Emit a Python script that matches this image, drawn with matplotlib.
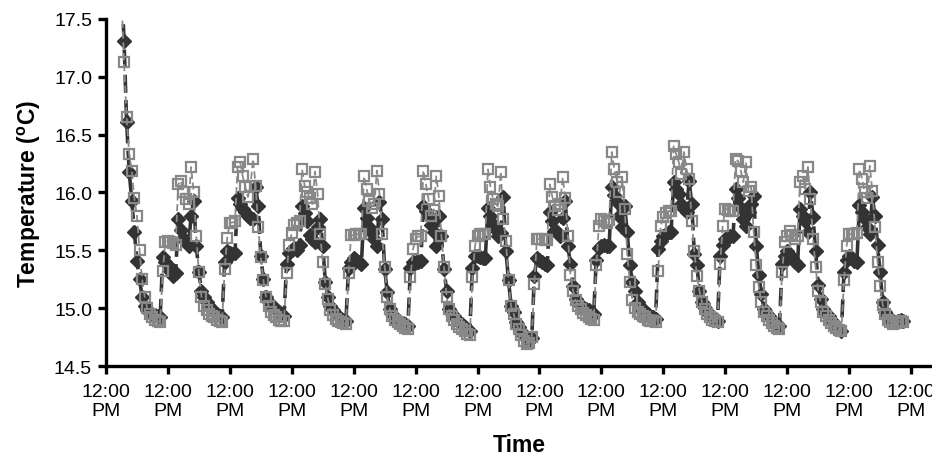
import numpy as np
import matplotlib
matplotlib.use("Agg")
import matplotlib.pyplot as plt

plt.rcParams["font.family"] = ["Liberation Sans", "DejaVu Sans"]
plt.rcParams["mathtext.fontset"] = "custom"
plt.rcParams["mathtext.rm"] = "Liberation Sans:bold"
plt.rcParams["mathtext.bf"] = "Liberation Sans:bold"

# ── Datos (lecturas horarias, horas desde el primer mediodía) ──
# tramo inicial: 6 PM hasta 9 AM del día 1
inicio_oscuro = [17.85, 17.31, 16.61, 16.18, 15.93, 15.66, 15.41, 15.25,
                 15.10, 15.02, 14.98, 14.96, 14.95, 14.94, 14.93, 14.92]
inicio_gris = [17.70, 17.13, 16.65, 16.33, 16.19, 15.95, 15.80, 15.50,
               15.25, 15.10, 15.00, 14.95, 14.92, 14.90, 14.89, 14.88]

# días 1..12: 24 lecturas de 10 AM a 9 AM del día siguiente
dias_oscuro = [
    [15.44, 15.40, 15.37, 15.32, 15.28, 15.30, 15.77, 15.68, 15.61, 15.57, 15.54, 15.80,
     15.93, 15.54, 15.31, 15.15, 15.10, 15.05, 15.02, 14.99, 14.97, 14.95, 14.93, 14.92],
    [15.40, 15.49, 15.48, 15.47, 15.48, 15.95, 15.90, 15.86, 15.83, 15.80, 15.78, 15.77,
     16.05, 15.88, 15.45, 15.25, 15.10, 15.05, 15.02, 15.00, 14.99, 14.97, 14.95, 14.93],
    [15.38, 15.48, 15.50, 15.52, 15.50, 15.55, 15.88, 15.82, 15.75, 15.63, 15.60, 15.57,
     15.70, 15.77, 15.54, 15.23, 15.10, 15.02, 14.98, 14.95, 14.93, 14.91, 14.90, 14.89],
    [15.35, 15.40, 15.43, 15.42, 15.40, 15.38, 15.87, 15.78, 15.70, 15.65, 15.60, 15.54,
     15.92, 15.77, 15.34, 15.14, 14.99, 14.95, 14.90, 14.89, 14.88, 14.87, 14.86, 14.85],
    [15.35, 15.40, 15.40, 15.40, 15.41, 15.88, 15.84, 15.80, 15.72, 15.66, 15.54, 15.80,
     15.62, 15.34, 15.15, 14.99, 14.95, 14.93, 14.90, 14.88, 14.86, 14.84, 14.82, 14.80],
    [15.35, 15.45, 15.45, 15.44, 15.43, 15.43, 15.87, 15.80, 15.73, 15.68, 15.62, 15.65,
     15.96, 15.49, 15.24, 15.02, 14.97, 14.88, 14.84, 14.80, 14.76, 14.73, 14.72, 14.74],
    [15.28, 15.43, 15.42, 15.40, 15.38, 15.37, 15.83, 15.75, 15.68, 15.65, 15.62, 15.78,
     15.93, 15.54, 15.38, 15.19, 15.08, 15.05, 15.02, 15.00, 14.99, 14.98, 14.96, 14.95],
    [15.42, 15.52, 15.54, 15.55, 15.54, 15.54, 16.05, 15.98, 15.92, 15.80, 15.70, 15.88,
     15.66, 15.37, 15.23, 15.15, 15.05, 15.00, 14.99, 14.97, 14.95, 14.93, 14.92, 14.91],
    [15.51, 15.58, 15.62, 15.64, 15.66, 15.66, 16.09, 16.03, 15.99, 15.90, 15.86, 15.83,
     16.10, 15.90, 15.47, 15.37, 15.15, 15.05, 15.00, 14.97, 14.95, 14.92, 14.90, 14.89],
    [15.45, 15.55, 15.60, 15.61, 15.62, 15.62, 16.03, 15.95, 15.87, 15.77, 15.71, 15.83,
     15.90, 15.97, 15.54, 15.29, 15.12, 14.99, 14.95, 14.93, 14.90, 14.88, 14.86, 14.85],
    [15.38, 15.45, 15.49, 15.46, 15.43, 15.40, 15.37, 15.86, 15.80, 15.75, 15.66, 16.00,
     15.79, 15.49, 15.20, 15.08, 14.99, 14.95, 14.93, 14.90, 14.87, 14.85, 14.82, 14.80],
    [15.31, 15.42, 15.45, 15.43, 15.41, 15.40, 15.89, 15.83, 15.77, 15.70, 15.64, 15.96,
     15.80, 15.55, 15.31, 15.05, 14.97, 14.93, 14.89, 14.88, 14.88, 14.89, 14.90, 14.89],
]
dias_gris = [
    [15.32, 15.57, 15.58, 15.57, 15.56, 15.55, 16.07, 16.10, 16.00, 15.94, 15.90, 16.22,
     16.00, 15.62, 15.31, 15.10, 15.02, 14.98, 14.95, 14.93, 14.92, 14.90, 14.89, 14.88],
    [15.34, 15.61, 15.74, 15.74, 15.75, 16.22, 16.26, 16.14, 16.05, 15.96, 16.06, 16.29,
     16.06, 15.70, 15.44, 15.24, 15.10, 15.02, 14.97, 14.94, 14.92, 14.90, 14.89, 14.89],
    [15.30, 15.55, 15.65, 15.72, 15.74, 15.75, 16.20, 16.06, 16.00, 15.95, 15.90, 16.18,
     15.99, 15.64, 15.40, 15.21, 15.08, 14.98, 14.94, 14.91, 14.89, 14.88, 14.87, 14.86],
    [15.30, 15.63, 15.63, 15.64, 15.64, 15.64, 16.14, 16.03, 15.93, 15.87, 15.90, 16.19,
     15.99, 15.64, 15.36, 15.10, 14.99, 14.93, 14.90, 14.88, 14.86, 14.85, 14.83, 14.82],
    [15.27, 15.51, 15.60, 15.62, 15.62, 16.19, 16.07, 15.94, 15.80, 15.85, 16.14, 15.97,
     15.62, 15.36, 15.10, 14.99, 14.93, 14.90, 14.86, 14.84, 14.82, 14.80, 14.78, 14.77],
    [15.27, 15.54, 15.62, 15.64, 15.64, 15.64, 16.20, 16.05, 15.94, 15.90, 15.88, 16.18,
     15.77, 15.58, 15.24, 15.02, 14.95, 14.86, 14.82, 14.77, 14.72, 14.69, 14.70, 14.75],
    [15.21, 15.60, 15.60, 15.60, 15.59, 15.59, 16.07, 15.96, 15.88, 15.85, 15.90, 16.13,
     15.95, 15.62, 15.29, 15.15, 15.07, 15.02, 14.99, 14.96, 14.94, 14.92, 14.91, 14.90],
    [15.37, 15.71, 15.77, 15.75, 15.74, 15.76, 16.35, 16.20, 16.09, 16.00, 16.13, 15.86,
     15.47, 15.23, 15.07, 15.00, 14.97, 14.95, 14.93, 14.92, 14.90, 14.89, 14.89, 14.88],
    [15.32, 15.71, 15.79, 15.82, 15.84, 15.84, 16.40, 16.33, 16.26, 16.16, 16.35, 16.20,
     16.12, 15.75, 15.49, 15.28, 15.15, 15.05, 14.99, 14.95, 14.92, 14.90, 14.89, 14.88],
    [15.38, 15.71, 15.86, 15.85, 15.84, 15.84, 16.29, 16.27, 16.19, 16.09, 16.26, 16.01,
     16.05, 15.66, 15.37, 15.18, 15.05, 14.97, 14.93, 14.90, 14.87, 14.85, 14.83, 14.82],
    [15.31, 15.57, 15.62, 15.67, 15.63, 15.60, 15.62, 16.09, 16.14, 16.03, 16.22, 15.94,
     15.60, 15.36, 15.15, 15.05, 14.97, 14.93, 14.90, 14.87, 14.85, 14.83, 14.81, 14.80],
    [15.24, 15.54, 15.64, 15.64, 15.64, 15.65, 16.20, 16.12, 16.00, 15.95, 16.23, 16.01,
     15.70, 15.40, 15.19, 15.03, 14.95, 14.90, 14.88, 14.86, 14.87, 14.88, 14.89, 14.88],
]

hora_inicio = 6          # 6 PM del primer día
n_ticks = 14
etiqueta_tick = "12:00\nPM"

oscuro = np.array(inicio_oscuro + [v for d in dias_oscuro for v in d])
gris = np.array(inicio_gris + [v for d in dias_gris for v in d])
horas = np.arange(hora_inicio, hora_inicio + len(oscuro))

# ── Gráfico ──
fig = plt.figure(figsize=(9.32, 4.64), dpi=100)
ax = fig.add_axes([0.1137, 0.209, 0.886, 0.748])

ax.plot(horas, oscuro, color="#333333", linestyle=(0, (5, 2)), linewidth=2.6,
        marker="D", markersize=7.5, markerfacecolor="#333333",
        markeredgecolor="#333333", zorder=2)
ax.plot(horas, gris, color="#8a8a8a", linestyle=(0, (4, 2)), linewidth=1.3,
        marker="s", markersize=7.2, markerfacecolor="none",
        markeredgecolor="#888888", markeredgewidth=1.6, zorder=3)

ax.set_ylim(14.5, 17.5)
ax.set_yticks(np.arange(14.5, 17.51, 0.5))
ax.set_yticklabels([f"{v:.1f}" for v in np.arange(14.5, 17.51, 0.5)])
ax.set_xlim(0, 320)
ax.set_xticks(np.arange(n_ticks) * 24)
ax.set_xticklabels([etiqueta_tick] * n_ticks)

for lado in ["top", "right"]:
    ax.spines[lado].set_visible(False)
for lado in ["left", "bottom"]:
    ax.spines[lado].set_linewidth(2.4)
ax.tick_params(axis="both", direction="out", length=6, width=2.4,
               labelsize=14, pad=4)
ax.tick_params(axis="x", pad=6)

ax.set_xlabel("Time", fontsize=16.5, fontweight="bold", labelpad=10)
ax.set_ylabel(r"Temperature ($^{\mathbf{o}}$C)", fontsize=16.5,
              fontweight="bold", labelpad=8)

fig.savefig("out.png", dpi=100)
